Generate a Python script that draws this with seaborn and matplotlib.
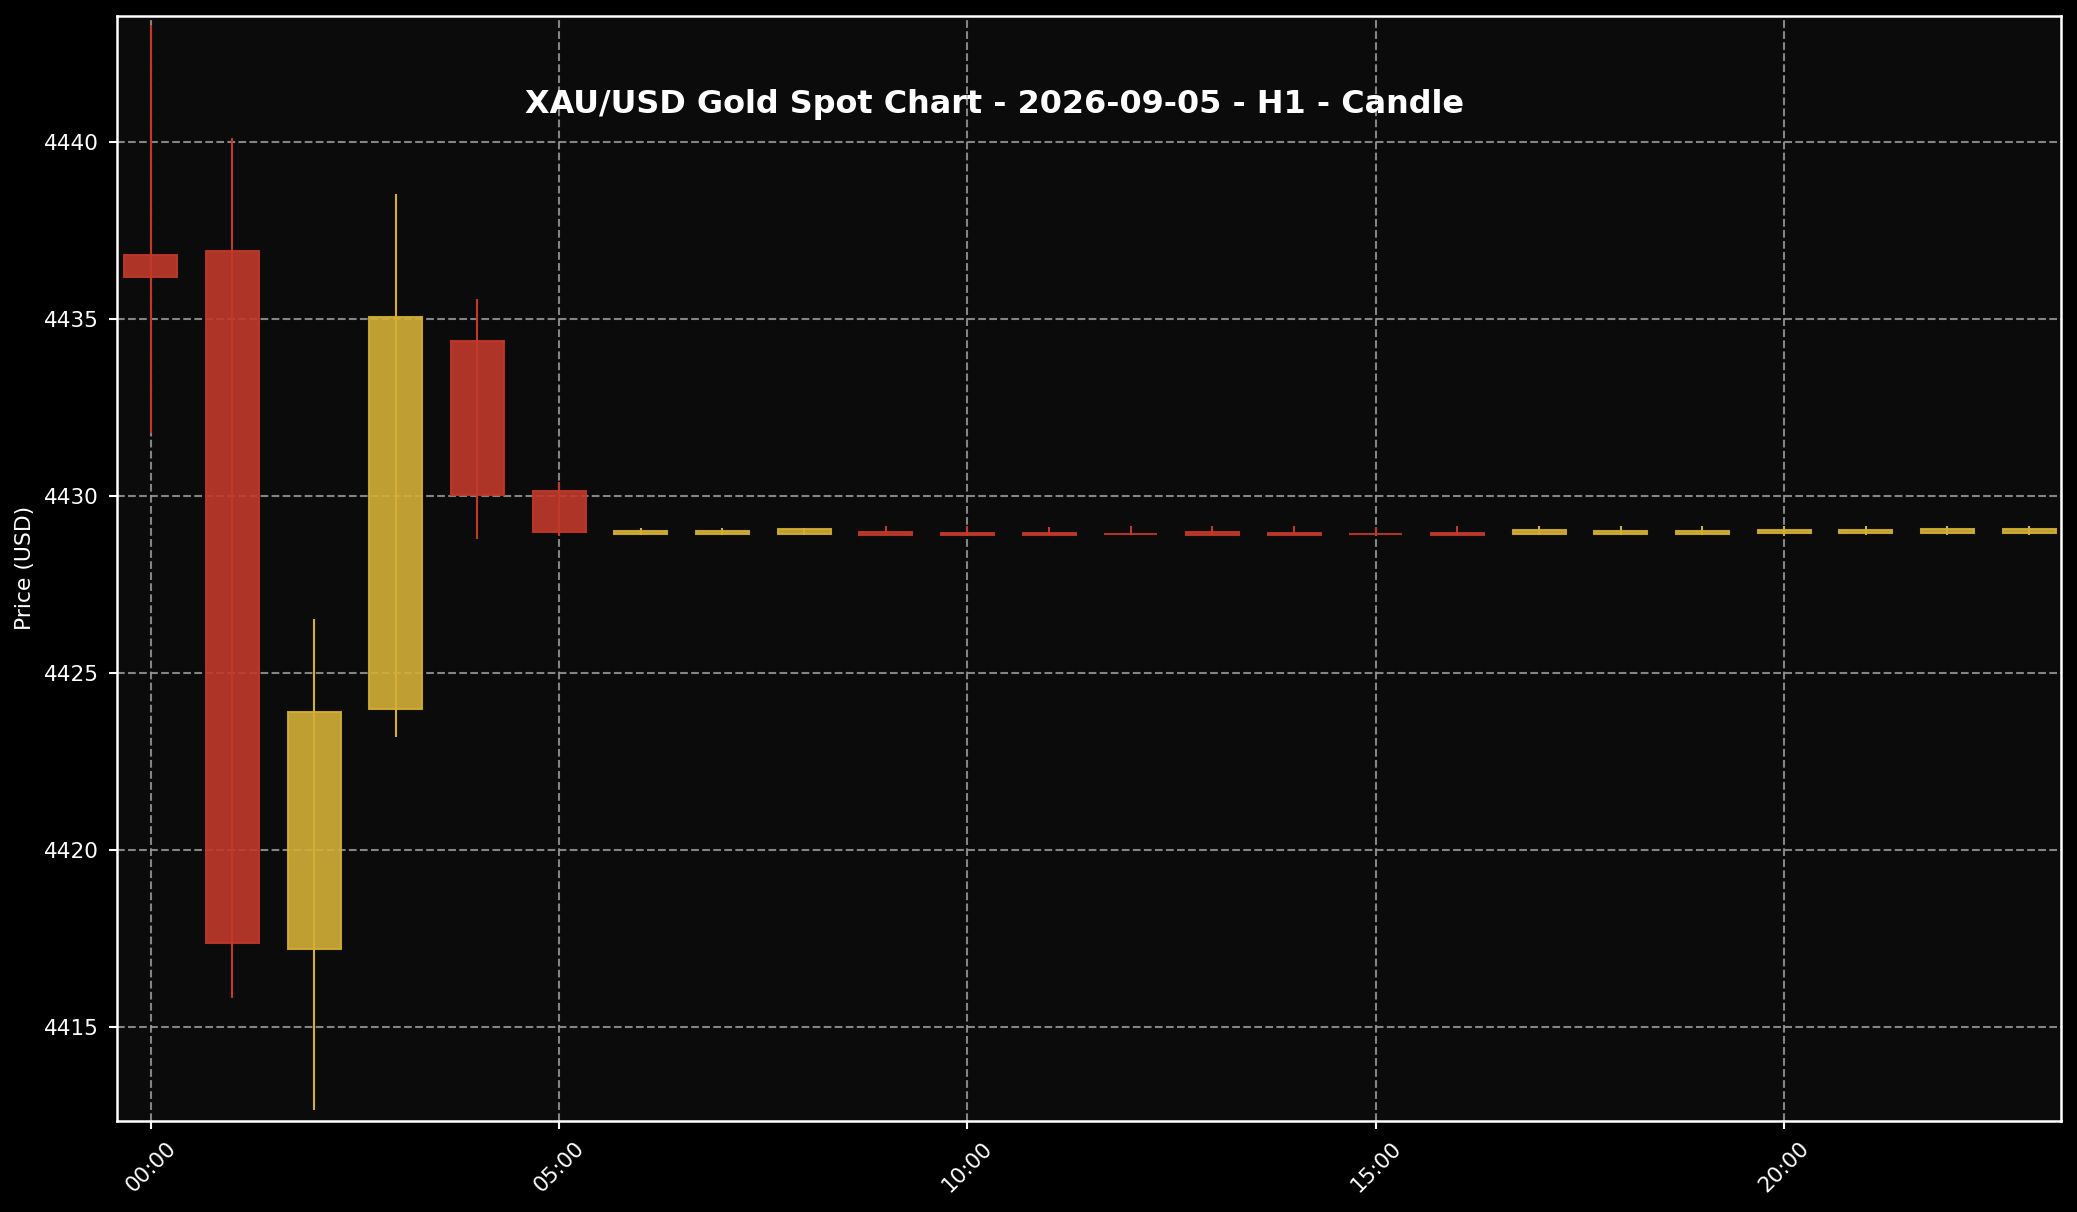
import numpy as np
import pandas as pd
import matplotlib
matplotlib.use("Agg")
import matplotlib.pyplot as plt
import seaborn as sns

# -----------------------------
# DATA (H1 candles)
# -----------------------------
hours = list(range(24))
opens = [4436.79, 4436.90, 4417.19, 4423.97, 4434.36, 4430.13,
         4428.92, 4428.92, 4428.92, 4428.97, 4428.94, 4428.94,
         4428.93, 4428.97, 4428.94, 4428.93, 4428.95, 4428.92,
         4428.92, 4428.92, 4428.94, 4428.94, 4428.94, 4428.95]
highs = [4443.30, 4440.10, 4426.52, 4438.53, 4435.55, 4430.39,
         4429.10, 4429.10, 4429.10, 4429.15, 4429.15, 4429.12,
         4429.15, 4429.15, 4429.15, 4429.12, 4429.15, 4429.15,
         4429.15, 4429.15, 4429.15, 4429.15, 4429.15, 4429.15]
lows = [4431.78, 4415.80, 4412.65, 4423.19, 4428.77, 4428.85,
        4428.88, 4428.88, 4428.88, 4428.88, 4428.87, 4428.88,
        4428.88, 4428.88, 4428.88, 4428.88, 4428.88, 4428.88,
        4428.88, 4428.88, 4428.87, 4428.90, 4428.88, 4428.88]
closes = [4436.18, 4417.36, 4423.88, 4435.04, 4430.03, 4428.98,
          4429.00, 4429.00, 4429.05, 4428.90, 4428.89, 4428.89,
          4428.91, 4428.89, 4428.89, 4428.91, 4428.88, 4429.02,
          4428.99, 4428.99, 4429.02, 4429.02, 4429.05, 4429.06]
tick_hours = [0, 5, 10, 15, 20]
tick_labels = ["00:00", "05:00", "10:00", "15:00", "20:00"]

TITLE = "XAU/USD Gold Spot Chart - 2026-09-05 - H1 - Candle"
UP_COLOR = "#D4AF37"
DOWN_COLOR = "#C0392B"

# -----------------------------
# STYLE
# -----------------------------
sns.set_theme(style="darkgrid", rc={
    "figure.facecolor": "black",
    "axes.facecolor": "#0B0B0B",
    "axes.edgecolor": "white",
    "axes.labelcolor": "white",
    "xtick.color": "white",
    "ytick.color": "white",
    "text.color": "white",
    "grid.color": "#9A9A9A",
    "grid.linestyle": "--",
    "axes.linewidth": 1.2,
    "xtick.bottom": True,
    "ytick.left": True,
})
plt.rcParams["font.family"] = ["DejaVu Sans"]

df = pd.DataFrame({"hour": hours, "open": opens, "high": highs,
                   "low": lows, "close": closes})
df["up"] = df["close"] >= df["open"]
df["color"] = np.where(df["up"], UP_COLOR, DOWN_COLOR)
df["bottom"] = df[["open", "close"]].min(axis=1)
df["height"] = (df["close"] - df["open"]).abs()

# -----------------------------
# PLOT
# -----------------------------
fig, ax = plt.subplots(figsize=(2077 / 150, 1212 / 150), dpi=150)
fig.subplots_adjust(left=0.0561, right=0.9923, top=0.9869, bottom=0.0754)

ax.vlines(df["hour"], df["low"], df["high"], colors=df["color"],
          linewidth=1.0, zorder=2)
ax.bar(df["hour"], df["height"], bottom=df["bottom"], width=0.65,
       color=df["color"], edgecolor=df["color"], linewidth=1.0,
       alpha=0.9, zorder=3)

ax.set_xlim(-0.42, 23.39)
ax.set_ylim(4412.35, 4443.55)
ax.set_xticks(tick_hours)
ax.set_xticklabels(tick_labels, rotation=45, fontsize=10.3)
ax.set_yticks([4415, 4420, 4425, 4430, 4435, 4440])
ax.tick_params(axis="y", labelsize=10.3)
ax.tick_params(length=4, width=1.0, pad=4.5)
ax.grid(True, linestyle="--", linewidth=1.0, alpha=0.85)
for s in ax.spines.values():
    s.set_color("white")
    s.set_visible(True)

ax.set_ylabel("Price (USD)", fontsize=10.5)
ax.set_xlabel("")

fig.text(0.479, 0.914, TITLE, ha="center", va="center",
         fontsize=15.3, fontweight="bold", color="white")

fig.savefig("out.png", dpi=150, facecolor=fig.get_facecolor())
